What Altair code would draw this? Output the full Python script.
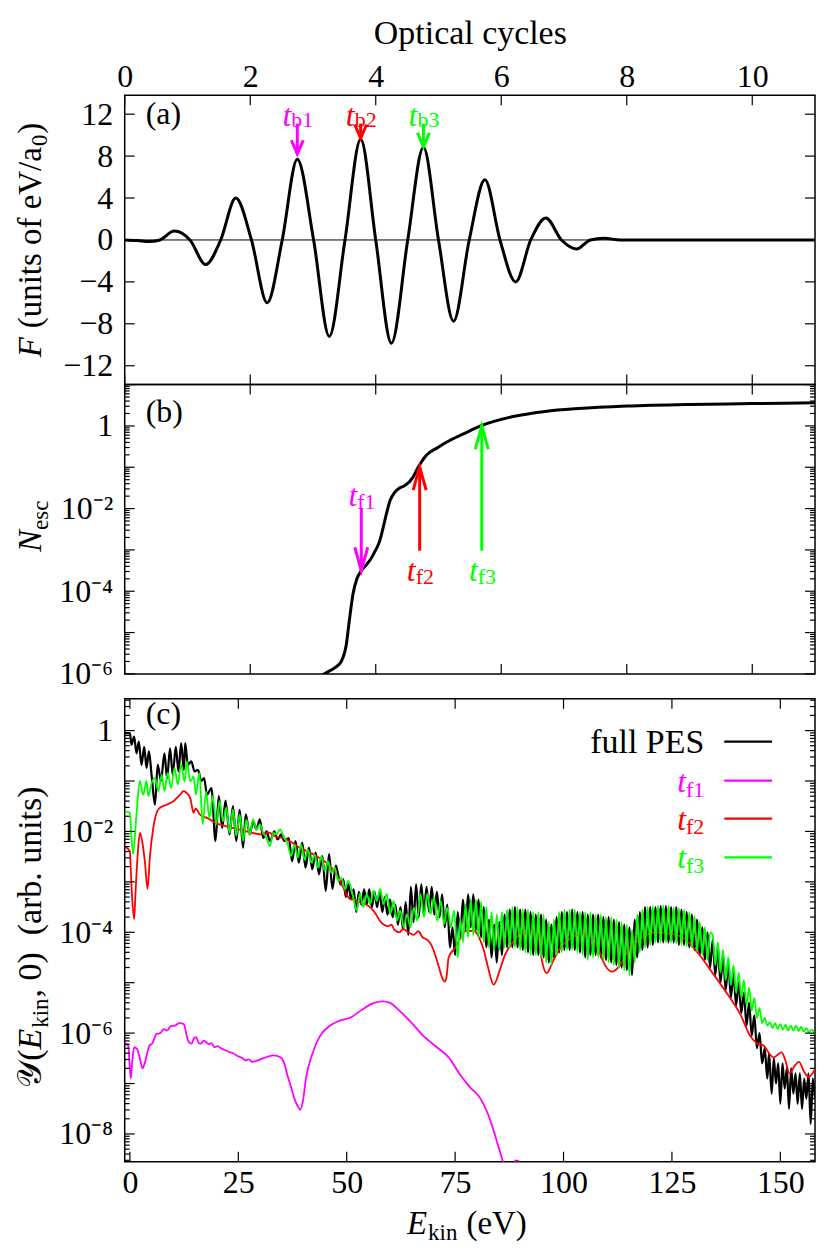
import altair as alt
import pandas as pd

FONT = "Liberation Serif"
MAG, RED, GRN = "#ff00ff", "#ff0000", "#00ff00"
W, HA, HB, HC = 692, 290, 290, 464

# ---------------- data ----------------
# (a) field F vs optical cycles
field_a = [(0.0, 0.0), (0.2, -0.05), (0.39, -0.15), (0.56, 0.0), (0.79, 0.85), (1.04, 0.0),
           (1.29, -2.35), (1.53, 0.0), (1.77, 4.0), (2.02, 0.0), (2.27, -6.0), (2.51, 0.0),
           (2.75, 7.7), (3.01, 0.0), (3.26, -9.2), (3.51, 0.0), (3.76, 9.6), (4.0, 0.0),
           (4.25, -9.85), (4.51, 0.0), (4.76, 8.85), (5.0, 0.0), (5.24, -7.75), (5.49, 0.0),
           (5.74, 5.75), (5.98, 0.0), (6.23, -4.0), (6.47, 0.0), (6.71, 2.1), (6.96, 0.0),
           (7.2, -0.86), (7.42, 0.0), (7.64, 0.16), (7.9, 0.0), (8.3, 0.0), (9.0, 0.0),
           (10.0, 0.0), (11.0, 0.0)]

# (b) N_esc vs optical cycles (log10 values)
nesc_b = [(3.0, -6.3), (3.18, -6.0), (3.35, -5.85), (3.45, -5.7), (3.53, -5.3), (3.58, -4.7),
          (3.64, -4.05), (3.70, -3.7), (3.77, -3.5), (3.84, -3.38), (3.92, -3.22), (4.0, -3.0),
          (4.06, -2.8), (4.12, -2.45), (4.17, -2.13), (4.23, -1.8), (4.30, -1.61), (4.38, -1.5),
          (4.46, -1.45), (4.59, -1.25), (4.68, -0.99), (4.80, -0.72), (4.99, -0.52), (5.17, -0.36),
          (5.39, -0.2), (5.67, 0.0), (6.17, 0.22), (6.7, 0.35), (7.23, 0.42), (8.0, 0.48),
          (9.0, 0.52), (10.0, 0.54), (11.0, 0.56)]

# arrows
tb_cycle = [2.75, 3.76, 4.76]
tb_tail = [11.1, 11.1, 11.1]
tb_tip = [8.2, 9.7, 8.9]
tb_label_y = [11.8, 11.8, 11.8]
tb_names = ["b1", "b2", "b3"]

tf_cycle = [3.77, 4.70, 5.69]
tf_tail_log = [-1.98, -3.02, -3.02]
tf_tip_log = [-3.5, -0.99, 0.0]
tf_label_log = [-1.7, -3.52, -3.52]
tf_names = ["f1", "f2", "f3"]

# (c) spectra: (E_kin in eV, log10 Y)
pes_full = [(-1.2, -0.05), (0.0, -0.05), (0.35, -0.28), (0.97, -0.12), (1.51, -0.45), (2.05, -0.22),
            (2.67, -0.68), (3.29, -0.32), (3.84, -0.74), (4.38, -0.41), (5.0, -0.88), (5.78, -1.47),
            (6.40, -0.68), (7.17, -1.0), (7.95, -0.45), (8.57, -0.94), (9.26, -0.35), (9.88, -0.88),
            (10.58, -0.32), (11.2, -0.81), (11.82, -0.25), (12.44, -0.78), (12.75, -0.25), (13.37, -0.68),
            (14.15, -0.61), (14.92, -0.81), (15.7, -0.78), (16.47, -1.0), (17.09, -0.94), (17.79, -1.27),
            (18.8, -1.14), (19.73, -2.19), (20.5, -1.3), (21.28, -1.93), (22.05, -1.39), (22.98, -2.06),
            (23.76, -1.5), (24.53, -2.19), (25.31, -1.57), (26.09, -2.32), (26.71, -1.66), (27.64, -2.06),
            (28.41, -1.8), (29.19, -1.96), (29.96, -1.76), (30.74, -2.13), (31.51, -2.0), (32.29, -2.19),
            (33.29, -2.0), (34.07, -2.16), (34.84, -2.06), (35.62, -2.19), (36.63, -2.13), (37.4, -2.59),
            (38.18, -2.19), (38.95, -2.62), (39.73, -2.22), (40.5, -2.72), (41.28, -2.32), (42.05, -2.75),
            (42.83, -2.42), (43.6, -2.85), (44.38, -2.49), (45.16, -3.18), (45.93, -2.45), (46.71, -3.14),
            (47.48, -2.68), (48.0, -2.85), (48.6, -3.05), (49.2, -2.95), (49.8, -3.3), (50.4, -3.05),
            (51.0, -3.35), (51.6, -3.15), (52.2, -3.6), (52.8, -3.2), (53.4, -3.45), (54.0, -3.15),
            (54.6, -3.45), (55.2, -3.15), (55.8, -3.5), (56.4, -3.2), (57.0, -3.5), (57.6, -3.2),
            (58.2, -3.6), (58.8, -3.3), (59.4, -3.65), (60.0, -3.35), (60.6, -3.7), (61.2, -3.45),
            (61.8, -3.85), (62.4, -3.5), (63.0, -3.95), (63.6, -3.4), (64.2, -4.05), (64.8, -3.1),
            (65.4, -3.8), (66.0, -3.05), (66.6, -3.7), (67.2, -3.05), (67.8, -3.65), (68.4, -3.1),
            (69.0, -3.6), (69.6, -3.1), (70.2, -3.65), (70.8, -3.2), (71.4, -3.7), (72.0, -3.25),
            (72.6, -3.9), (73.2, -3.45), (73.8, -4.3), (74.4, -3.9), (75.0, -4.45), (75.6, -3.6),
            (76.2, -4.1), (76.8, -3.35), (77.4, -3.95), (78.0, -3.25), (78.6, -3.9), (79.2, -3.25),
            (79.8, -3.95), (80.4, -3.35), (81.0, -4.1), (81.6, -3.5), (82.2, -4.3), (82.8, -3.75),
            (83.4, -4.5), (84.0, -3.85), (84.6, -4.6), (85.2, -3.8), (85.8, -4.45), (86.4, -3.65),
            (87.0, -4.3), (87.6, -3.55), (88.2, -4.3), (88.8, -3.5), (89.4, -4.3), (90.0, -3.55),
            (90.6, -4.35), (91.2, -3.55), (91.8, -4.4), (92.4, -3.6), (93.0, -4.45), (93.6, -3.65),
            (94.2, -4.45), (94.8, -3.65), (95.4, -4.5), (96.0, -3.75), (96.6, -4.6), (97.2, -3.85),
            (97.8, -4.5), (98.4, -3.7), (99.0, -4.4), (99.6, -3.6), (100.2, -4.35), (100.8, -3.6),
            (101.4, -4.35), (102.0, -3.55), (102.6, -4.35), (103.2, -3.6), (103.8, -4.4), (104.4, -3.6),
            (105.0, -4.5), (105.6, -3.65), (106.2, -4.45), (106.8, -3.65), (107.4, -4.45), (108.0, -3.65),
            (108.6, -4.5), (109.2, -3.7), (109.8, -4.55), (110.4, -3.7), (111.0, -4.6), (111.6, -3.75),
            (112.2, -4.65), (112.8, -3.8), (113.4, -4.7), (114.0, -3.85), (114.6, -4.75), (115.2, -3.9),
            (115.8, -4.85), (116.4, -3.75), (117.0, -4.5), (117.6, -3.6), (118.2, -4.35), (118.8, -3.5),
            (119.4, -4.3), (120.0, -3.5), (120.6, -4.25), (121.2, -3.5), (121.8, -4.2), (122.4, -3.48),
            (123.0, -4.2), (123.6, -3.48), (124.2, -4.2), (124.8, -3.5), (125.4, -4.2), (126.0, -3.5),
            (126.6, -4.25), (127.2, -3.55), (127.8, -4.25), (128.4, -3.6), (129.0, -4.3), (129.6, -3.65),
            (130.2, -4.35), (130.8, -3.75), (131.4, -4.45), (132.0, -3.9), (132.6, -4.55), (133.2, -4.0),
            (133.8, -4.7), (134.4, -4.15), (135.0, -4.85), (135.6, -4.3), (136.2, -5.0), (136.8, -4.45),
            (137.4, -5.15), (138.0, -4.6), (138.6, -5.3), (139.2, -4.8), (139.8, -5.45), (140.4, -5.0),
            (141.0, -5.6), (141.6, -5.2), (142.2, -5.85), (142.8, -5.4), (143.4, -6.05), (144.0, -5.65),
            (144.6, -6.3), (145.2, -6.0), (145.8, -6.6), (146.4, -6.3), (147.0, -6.9), (147.4, -6.4),
            (148.0, -7.2), (148.5, -6.5), (149.0, -7.0), (149.5, -6.6), (150.0, -7.4), (150.5, -6.6),
            (151.0, -7.1), (151.5, -6.7), (152.0, -7.5), (152.5, -6.7), (153.0, -7.2), (153.5, -6.8),
            (154.0, -7.4), (154.5, -6.8), (155.0, -7.5), (155.5, -6.9), (156.0, -7.3), (156.5, -6.8),
            (157.0, -7.8), (157.5, -6.9), (158.0, -7.3)]

pes_tf1 = [(-1.2, -6.2), (-0.4, -6.25), (0.2, -6.9), (0.6, -6.5), (1.0, -6.28), (1.6, -6.31),
           (2.3, -6.5), (2.9, -6.7), (3.4, -6.6), (4.5, -6.25), (5.2, -6.2), (6.1, -6.02),
           (7.0, -6.0), (7.8, -5.92), (8.6, -5.95), (9.4, -5.86), (10.4, -5.85), (11.5, -5.8),
           (12.4, -5.82), (13.1, -6.05), (13.6, -6.18), (14.2, -6.21), (14.8, -6.1), (15.3, -6.08),
           (15.9, -6.2), (16.4, -6.21), (17.0, -6.15), (17.6, -6.18), (18.2, -6.22), (18.8, -6.2),
           (19.5, -6.28), (20.2, -6.26), (21.0, -6.3), (21.7, -6.33), (22.3, -6.35), (23.0, -6.38),
           (23.8, -6.4), (24.5, -6.44), (25.3, -6.47), (26.0, -6.5), (26.6, -6.54), (27.4, -6.52),
           (28.2, -6.57), (29.2, -6.55), (30.4, -6.51), (31.7, -6.47), (33.1, -6.44), (34.7, -6.48),
           (35.6, -6.6), (36.3, -6.83), (37.1, -7.05), (37.9, -7.29), (38.7, -7.45), (39.3, -7.52),
           (39.9, -7.35), (40.6, -6.9), (41.4, -6.6), (42.2, -6.38), (43.9, -6.05), (46.0, -5.86),
           (48.2, -5.76), (50.9, -5.69), (53.6, -5.53), (56.3, -5.4), (58.4, -5.37), (60.0, -5.4),
           (62.2, -5.56), (64.9, -5.79), (67.6, -6.05), (70.8, -6.28), (73.5, -6.48), (76.2, -6.83),
           (78.3, -7.06), (81.0, -7.32), (83.2, -7.75), (84.8, -8.2), (85.9, -8.51), (86.8, -8.8),
           (88.0, -9.0), (88.8, -8.53), (89.6, -8.53), (90.4, -9.0)]

pes_tf2 = [(-1.2, -2.3), (0.0, -2.39), (0.12, -2.6), (0.5, -3.3), (0.97, -3.74), (1.3, -3.2),
           (1.8, -2.45), (2.29, -2.03), (2.83, -2.2), (3.45, -2.6), (4.07, -3.14), (4.61, -2.5),
           (5.39, -1.93), (6.16, -1.63), (6.94, -1.53), (8.49, -1.47), (10.04, -1.4), (11.59, -1.27),
           (12.36, -1.2), (13.14, -1.24), (13.91, -1.34), (14.69, -1.63), (15.1, -1.55), (15.47, -1.57),
           (16.0, -1.65), (16.63, -1.7), (17.79, -1.73), (19.73, -1.83), (21.5, -1.88), (23.6, -1.93),
           (26.0, -1.98), (28.26, -2.03), (30.58, -2.06), (32.0, -2.02), (33.5, -2.1), (35.23, -2.13),
           (37.0, -2.2), (39.1, -2.32), (42.2, -2.45), (45.31, -2.62), (47.64, -2.85), (49.19, -3.11),
           (50.74, -3.34), (52.0, -3.36), (53.06, -3.41), (54.5, -3.45), (56.16, -3.57), (57.9, -3.8),
           (59.5, -3.88), (60.3, -3.85), (61.0, -3.95), (62.2, -4.0), (63.0, -3.93), (63.8, -3.98),
           (64.6, -4.02), (65.5, -4.05), (66.5, -3.98), (67.5, -4.1), (68.6, -4.15), (69.5, -4.25),
           (70.3, -4.42), (71.3, -4.7), (72.0, -4.9), (72.6, -4.98), (73.0, -4.9), (73.5, -4.5),
           (75.1, -4.3), (77.3, -3.98), (79.4, -3.97), (80.5, -4.1), (81.6, -4.35), (82.6, -4.7),
           (83.9, -5.04), (85.3, -4.75), (86.5, -4.45), (88.0, -4.23), (90.2, -4.03), (92.3, -4.0),
           (93.4, -4.0), (94.3, -4.15), (95.0, -4.55), (96.1, -4.81), (97.7, -4.55), (99.3, -4.3),
           (101.0, -4.16), (104.2, -4.03), (106.9, -4.13), (108.0, -4.3), (109.0, -4.55), (111.2, -4.78),
           (112.8, -4.68), (115.0, -4.36), (118.2, -4.1), (121.4, -4.0), (124.7, -4.03), (127.9, -4.13),
           (131.1, -4.42), (134.4, -4.81), (137.6, -5.2), (140.8, -5.63), (143.0, -6.05), (144.6, -6.2),
           (146.2, -6.25), (147.4, -6.4), (148.4, -6.48), (150.3, -6.38), (151.2, -6.55), (152.1, -6.8),
           (153.3, -6.65), (154.3, -6.57), (155.4, -6.75), (156.5, -6.87), (158.1, -6.7)]

pes_tf3 = [(-1.2, -1.6), (0.0, -1.63), (0.35, -2.1), (0.74, -2.45), (1.51, -1.66), (2.29, -1.0),
           (3.06, -1.27), (3.84, -1.0), (4.22, -1.3), (5.0, -1.04), (5.78, -0.94), (6.55, -1.2),
           (7.33, -0.88), (7.95, -1.2), (8.72, -0.84), (9.5, -1.14), (10.27, -0.74), (11.05, -1.07),
           (11.82, -0.68), (12.6, -1.01), (13.14, -0.61), (13.91, -1.01), (14.69, -0.91), (15.23, -1.27),
           (16.01, -0.84), (16.78, -1.86), (17.56, -1.21), (18.33, -1.73), (19.11, -1.3), (19.88, -1.86),
           (20.66, -1.4), (21.43, -1.8), (22.21, -1.53), (22.98, -2.03), (23.76, -1.57), (24.53, -2.09),
           (25.31, -1.66), (26.09, -2.19), (26.86, -1.76), (27.64, -2.06), (28.41, -1.76), (29.19, -1.96),
           (29.96, -1.86), (30.74, -2.03), (31.51, -2.13), (32.29, -2.29), (33.06, -2.03), (33.84, -2.06),
           (34.61, -1.96), (35.39, -2.09), (36.4, -2.26), (37.17, -2.49), (37.95, -2.26), (38.72, -2.52),
           (39.5, -2.26), (40.27, -2.56), (41.05, -2.36), (41.82, -2.62), (42.6, -2.46), (43.37, -2.72),
           (44.15, -2.49), (44.92, -2.78), (45.7, -2.59), (46.47, -2.82), (47.25, -2.72), (48.02, -2.98),
           (48.8, -2.92), (49.57, -3.14), (50.35, -2.98), (51.51, -3.31), (52.29, -3.57), (53.06, -3.24),
           (53.84, -3.5), (54.61, -3.24), (55.39, -3.44), (56.16, -3.18), (56.94, -3.38), (57.71, -3.14),
           (58.49, -3.44), (59.26, -3.24), (60.04, -3.64), (60.81, -3.38), (61.59, -3.77), (62.36, -3.57),
           (63.14, -3.9), (63.91, -3.64), (64.69, -3.9), (65.47, -3.51), (66.24, -3.77), (67.02, -3.24),
           (67.79, -3.7), (68.57, -3.24), (69.34, -3.64), (70.12, -3.31), (70.89, -3.77), (71.67, -3.38),
           (72.44, -3.84), (73.22, -3.51), (73.99, -3.9), (74.77, -3.57), (75.6, -4.5), (76.2, -3.75),
           (76.8, -4.2), (77.4, -3.45), (78.0, -4.1), (78.6, -3.35), (79.2, -4.05), (79.8, -3.35),
           (80.4, -4.1), (81.0, -3.4), (81.6, -4.2), (82.2, -3.5), (82.8, -4.3), (83.4, -3.6),
           (84.0, -4.35), (84.6, -3.65), (85.2, -4.35), (85.8, -3.6), (86.4, -4.3), (87.0, -3.55),
           (87.6, -4.3), (88.2, -3.5), (88.8, -4.3), (89.4, -3.5), (90.0, -4.35), (90.6, -3.55),
           (91.2, -4.4), (91.8, -3.55), (92.4, -4.45), (93.0, -3.6), (93.6, -4.45), (94.2, -3.6),
           (94.8, -4.5), (95.4, -3.65), (96.0, -4.6), (96.6, -3.8), (97.2, -4.65), (97.8, -3.75),
           (98.4, -4.45), (99.0, -3.6), (99.6, -4.4), (100.2, -3.55), (100.8, -4.35), (101.4, -3.55),
           (102.0, -4.35), (102.6, -3.55), (103.2, -4.4), (103.8, -3.6), (104.4, -4.45), (105.0, -3.6),
           (105.6, -4.55), (106.2, -3.6), (106.8, -4.5), (107.4, -3.65), (108.0, -4.5), (108.6, -3.65),
           (109.2, -4.55), (109.8, -3.7), (110.4, -4.6), (111.0, -3.7), (111.6, -4.65), (112.2, -3.75),
           (112.8, -4.7), (113.4, -3.8), (114.0, -4.75), (114.6, -3.85), (115.2, -4.85), (115.8, -3.95),
           (116.4, -4.6), (117.0, -3.65), (117.6, -4.4), (118.2, -3.55), (118.8, -4.3), (119.4, -3.5),
           (120.0, -4.25), (120.6, -3.48), (121.2, -4.2), (121.8, -3.47), (122.4, -4.2), (123.0, -3.47),
           (123.6, -4.2), (124.2, -3.48), (124.8, -4.2), (125.4, -3.5), (126.0, -4.22), (126.6, -3.52),
           (127.2, -4.25), (127.8, -3.55), (128.4, -4.28), (129.0, -3.6), (129.6, -4.3), (130.2, -3.68),
           (130.8, -4.38), (131.4, -3.8), (132.0, -4.45), (132.6, -3.9), (133.2, -4.55), (133.8, -4.0),
           (134.4, -4.05), (135.0, -4.65), (135.6, -4.2), (136.2, -4.8), (136.8, -4.35), (137.4, -4.95),
           (138.0, -4.5), (138.6, -5.05), (139.2, -4.65), (139.8, -5.2), (140.4, -4.8), (141.0, -5.3),
           (141.6, -4.95), (142.2, -5.45), (142.8, -5.1), (143.4, -5.55), (144.0, -5.3), (144.6, -5.7),
           (145.2, -5.5), (145.8, -5.8), (146.4, -5.7), (147.0, -5.85), (147.6, -5.78), (148.2, -5.9),
           (148.8, -5.8), (149.4, -5.92), (150.0, -5.82), (150.6, -5.93), (151.2, -5.83), (151.8, -5.95),
           (152.4, -5.85), (153.0, -5.95), (153.6, -5.85), (154.2, -5.96), (154.8, -5.87), (155.4, -5.97),
           (156.0, -5.9), (156.6, -5.98), (157.2, -5.93), (158.0, -6.02)]

legend_names = ["full PES", "f1", "f2", "f3"]

# ---------------- helpers ----------------
CW = {" ": 250, "(": 333, ")": 333, ",": 250, ".": 250, "/": 278, "a": 444, "b": 500,
      "c": 444, "e": 444, "f": 333, "i": 278, "k": 500, "l": 278, "n": 500, "o": 500, "r": 333,
      "s": 389, "t": 278, "u": 500, "y": 500, "E": 611, "F": 611, "N": 667, "P": 556, "S": 556,
      "V": 722, "Y": 722, "O": 722, "p": 500, "\U0001D4B4": 700}


def tw(text, size):
    return sum(CW.get(ch, 500) for ch in text) * size / 1000.0


ONE = [{"k": 1}]


def ptxt(text, x, y, size=32, italic=False, angle=0, align="left", baseline="alphabetic", color="black"):
    return alt.Chart(alt.Data(values=ONE)).mark_text(
        text=text, font=FONT, fontSize=size, fontStyle="italic" if italic else "normal",
        angle=angle, align=align, baseline=baseline, color=color
    ).encode(x=alt.value(x), y=alt.value(y))


# pieces: (text, size, italic, baseline shift, gap before)
def hcompose(pieces, cx, base, color="black"):
    total = sum(tw(p[0], p[1]) + p[4] for p in pieces)
    out, x = [], cx - total / 2
    for text, size, italic, shift, gap in pieces:
        x += gap
        out.append(ptxt(text, x, base + shift, size, italic, color=color))
        x += tw(text, size)
    return out


def vcompose(pieces, cy, bx):
    total = sum(tw(p[0], p[1]) + p[4] for p in pieces)
    out, y = [], cy + total / 2
    for text, size, italic, shift, gap in pieces:
        y -= gap
        out.append(ptxt(text, bx + shift, y, size, italic, angle=270))
        y -= tw(text, size)
    return out


def spacer(x=None, y=None):
    if x is not None:
        return alt.Chart(alt.Data(values=ONE)).mark_rule(strokeOpacity=0, color="white").encode(
            x=alt.value(x), y=alt.value(0), y2=alt.value(1))
    return alt.Chart(alt.Data(values=ONE)).mark_rule(strokeOpacity=0, color="white").encode(
        x=alt.value(0), x2=alt.value(1), y=alt.value(y))


def xticks(X, vals, H, L):
    d = pd.DataFrame({"x": vals})
    top = alt.Chart(d).mark_rule(color="black", strokeWidth=1.2).encode(x=X, y=alt.value(0), y2=alt.value(L))
    bot = alt.Chart(d).mark_rule(color="black", strokeWidth=1.2).encode(x=X, y=alt.value(H), y2=alt.value(H - L))
    return [top, bot]


def yticks(Y, vals, L):
    d = pd.DataFrame({"y": vals})
    lft = alt.Chart(d).mark_rule(color="black", strokeWidth=1.2).encode(y=Y, x=alt.value(0), x2=alt.value(L))
    rgt = alt.Chart(d).mark_rule(color="black", strokeWidth=1.2).encode(y=Y, x=alt.value(W), x2=alt.value(W - L))
    return [lft, rgt]


def log_ticks(lo, hi):
    major, minor = [], []
    for k in range(-10, 3):
        v = 10.0 ** k
        if lo <= v <= hi:
            major.append(v)
        for m in range(2, 10):
            u = m * 10.0 ** k
            if lo <= u <= hi:
                minor.append(u)
    return major, minor


EXPR = ("datum.value > 0.5 ? '1' : datum.value > 0.005 ? '10\u207b\u00b2' : "
        "datum.value > 0.00005 ? '10\u207b\u2074' : datum.value > 0.0000005 ? '10\u207b\u2076' : '10\u207b\u2078'")

DOWN = "M-0.5,-1.15L0,0L0.5,-1.15"
DOWN_B = "M-0.5,-1.8L0,0L0.5,-1.8"
UP_B = "M-0.5,1.8L0,0L0.5,1.8"

# ---------------- panel (a) ----------------
XA = alt.X("x:Q", scale=alt.Scale(domain=[0, 11], nice=False, zero=False),
           axis=alt.Axis(orient="top", values=[0, 2, 4, 6, 8, 10], title="Optical cycles",
                         labelPadding=2, titlePadding=10, titleFontSize=34))
YA = alt.Y("y:Q", scale=alt.Scale(domain=[-13.8, 13.8], nice=False, zero=False),
           axis=alt.Axis(values=[-12, -8, -4, 0, 4, 8, 12], title=None, labelPadding=12))

dfa = pd.DataFrame(field_a, columns=["x", "y"])
zero_a = alt.Chart(pd.DataFrame({"y": [0]})).mark_rule(color="black", strokeWidth=1).encode(y=YA)
line_a = alt.Chart(dfa).mark_line(color="black", strokeWidth=3, interpolate="monotone").encode(x=XA, y=YA)

arrow_cols = [MAG, RED, GRN]
layers_a = [zero_a, line_a]
for i in range(3):
    shaft = pd.DataFrame({"x": [tb_cycle[i]], "y": [tb_tail[i]], "y2": [tb_tip[i]]})
    head = pd.DataFrame({"x": [tb_cycle[i]], "y": [tb_tip[i]]})
    lab = pd.DataFrame({"x": [tb_cycle[i]], "y": [tb_label_y[i]]})
    layers_a.append(alt.Chart(shaft).mark_rule(color=arrow_cols[i], strokeWidth=3).encode(x=XA, y=YA, y2="y2:Q"))
    layers_a.append(alt.Chart(head).mark_point(shape=DOWN, filled=False, strokeWidth=3, size=576,
                                               color=arrow_cols[i], opacity=1).encode(x=XA, y=YA))
    layers_a.append(alt.Chart(lab).mark_text(text="t", font=FONT, fontSize=32, fontStyle="italic",
                                             align="right", dx=-6, color=arrow_cols[i]).encode(x=XA, y=YA))
    layers_a.append(alt.Chart(lab).mark_text(text=tb_names[i], font=FONT, fontSize=22, align="left",
                                             dx=-6, dy=4, color=arrow_cols[i]).encode(x=XA, y=YA))
layers_a += xticks(XA, [0, 2, 4, 6, 8, 10], HA, 10)
layers_a += yticks(YA, [-12, -8, -4, 0, 4, 8, 12], 10)
layers_a.append(ptxt("(a)", 21, 19, baseline="middle"))
layers_a += vcompose([("F", 33, True, 0, 0), ("(units of eV/a", 33, False, 0, 9), ("0", 23, False, 6, 1),
                      (")", 33, False, 0, 1)], 145, -84)
layers_a += [spacer(x=-116), spacer(y=-85)]
panel_a = alt.layer(*layers_a).properties(width=W, height=HA)

# ---------------- panel (b) ----------------
XB = alt.X("x:Q", scale=alt.Scale(domain=[0, 11], nice=False, zero=False), axis=None)
YB = alt.Y("y:Q", scale=alt.Scale(type="log", domain=[1e-6, 10], nice=False),
           axis=alt.Axis(values=[1e-6, 1e-4, 1e-2, 1], labelExpr=EXPR, title=None, labelPadding=12))

dfb = pd.DataFrame({"x": [p[0] for p in nesc_b], "y": [10 ** p[1] for p in nesc_b]})
layers_b = [alt.Chart(dfb).mark_line(color="black", strokeWidth=3, interpolate="monotone", clip=True).encode(x=XB, y=YB)]
for i in range(3):
    shaft = pd.DataFrame({"x": [tf_cycle[i]], "y": [10 ** tf_tail_log[i]], "y2": [10 ** tf_tip_log[i]]})
    head = pd.DataFrame({"x": [tf_cycle[i]], "y": [10 ** tf_tip_log[i]]})
    lab = pd.DataFrame({"x": [tf_cycle[i]], "y": [10 ** tf_label_log[i]]})
    shape = DOWN_B if tf_tip_log[i] < tf_tail_log[i] else UP_B
    layers_b.append(alt.Chart(shaft).mark_rule(color=arrow_cols[i], strokeWidth=3).encode(x=XB, y=YB, y2="y2:Q"))
    layers_b.append(alt.Chart(head).mark_point(shape=shape, filled=False, strokeWidth=3, size=676,
                                               color=arrow_cols[i], opacity=1).encode(x=XB, y=YB))
    layers_b.append(alt.Chart(lab).mark_text(text="t", font=FONT, fontSize=32, fontStyle="italic",
                                             align="right", dx=-4, color=arrow_cols[i]).encode(x=XB, y=YB))
    layers_b.append(alt.Chart(lab).mark_text(text=tf_names[i], font=FONT, fontSize=22, align="left",
                                             dx=-4, dy=6, color=arrow_cols[i]).encode(x=XB, y=YB))
maj_b, min_b = log_ticks(1e-6, 10)
layers_b += xticks(XB, [0, 2, 4, 6, 8, 10], HB, 10)
layers_b += yticks(YB, maj_b, 10)
layers_b += yticks(YB, min_b, 5)
layers_b.append(ptxt("(b)", 21, 27, baseline="middle"))
layers_b += vcompose([("N", 33, True, 0, 0), ("esc", 23, False, 7, 0)], 142, -84)
layers_b.append(spacer(x=-116))
panel_b = alt.layer(*layers_b).properties(width=W, height=HB)

# ---------------- panel (c) ----------------
YLO, YHI = 10 ** -8.55, 10 ** 0.63
XC = alt.X("x:Q", scale=alt.Scale(domain=[-1.2, 158], nice=False, zero=False),
           axis=alt.Axis(values=[0, 25, 50, 75, 100, 125, 150], title=None, labelPadding=6))
YC = alt.Y("y:Q", scale=alt.Scale(type="log", domain=[YLO, YHI], nice=False),
           axis=alt.Axis(values=[1e-8, 1e-6, 1e-4, 1e-2, 1], labelExpr=EXPR, title=None, labelPadding=12))


def spec(pts):
    return pd.DataFrame({"x": [p[0] for p in pts], "y": [10 ** p[1] for p in pts]})


layers_c = [
    alt.Chart(spec(pes_full)).mark_line(color="black", strokeWidth=2.2, interpolate="monotone", clip=True).encode(x=XC, y=YC),
    alt.Chart(spec(pes_tf1)).mark_line(color=MAG, strokeWidth=1.8, interpolate="monotone", clip=True).encode(x=XC, y=YC),
    alt.Chart(spec(pes_tf2)).mark_line(color=RED, strokeWidth=1.8, interpolate="monotone", clip=True).encode(x=XC, y=YC),
    alt.Chart(spec(pes_tf3)).mark_line(color=GRN, strokeWidth=1.8, interpolate="monotone", clip=True).encode(x=XC, y=YC),
]
maj_c, min_c = log_ticks(YLO, YHI)
layers_c += xticks(XC, [0, 25, 50, 75, 100, 125, 150], HC, 10)
layers_c += yticks(YC, maj_c, 10)
layers_c += yticks(YC, min_c, 5)
layers_c.append(ptxt("(c)", 21, 15, baseline="middle"))
# legend
leg_cols = ["black", MAG, RED, GRN]
leg_y = [43, 82, 120, 159]
for i in range(4):
    if i == 0:
        layers_c.append(ptxt(legend_names[0], 581, leg_y[0] + 11, size=34, align="right"))
    else:
        layers_c.append(ptxt(legend_names[i], 581, leg_y[i] + 16, size=22, align="right", color=leg_cols[i]))
        layers_c.append(ptxt("t", 581 - tw(legend_names[i], 22), leg_y[i] + 11, italic=True, align="right",
                             color=leg_cols[i]))
    layers_c.append(alt.Chart(alt.Data(values=ONE)).mark_rule(color=leg_cols[i], strokeWidth=2.2).encode(
        x=alt.value(601), x2=alt.value(649), y=alt.value(leg_y[i])))
layers_c += vcompose([("\U0001D4B4", 34, False, 0, 0), ("(", 34, False, 0, 3), ("E", 34, True, 0, 0),
                      ("kin", 23, False, 7, 1), (",\u00a00)\u00a0\u00a0(arb. units)", 34, False, 0, 1)],
                     226, -84)
layers_c += hcompose([("E", 33, True, 0, 0), ("kin", 23, False, 7, 1), ("(eV)", 33, False, 0, 9)],
                     343, HC + 72)
layers_c.append(spacer(x=-116))
panel_c = alt.layer(*layers_c).properties(width=W, height=HC)

chart = alt.vconcat(
    alt.vconcat(panel_a, panel_b, spacing=0, bounds="flush"),
    panel_c, spacing=6
).properties(padding=0).configure_view(stroke="black", strokeWidth=1.5).configure_axis(
    grid=False, domain=False, ticks=False, labelFont=FONT, labelFontSize=32, labelColor="black",
    titleFont=FONT, titleFontSize=32, titleFontWeight="normal", titleColor="black",
    labelFlush=False, labelOverlap=False
)

chart.save("out.html", embed_options={"renderer": "svg", "actions": False})
